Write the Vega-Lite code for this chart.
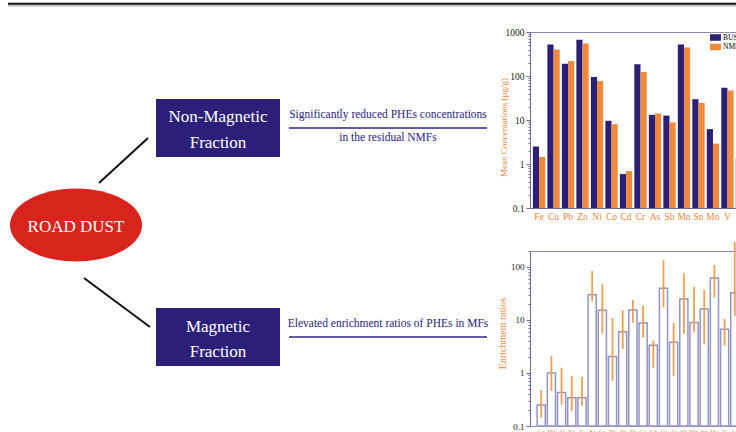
{
  "$schema": "https://vega.github.io/schema/vega-lite/v6.json",
  "padding": 0,
  "background": "white",
  "config": {
    "font": "Liberation Serif",
    "view": {"stroke": null},
    "axis": {"labelFont": "Liberation Serif", "titleFont": "Liberation Serif", "grid": false}
  },
  "spacing": 0,
  "bounds": "flush",
  "hconcat": [
    {
      "width": 530,
      "height": 432,
      "view": {"stroke": null},
      "encoding": {
        "x": {"field": "x", "type": "quantitative", "scale": {"domain": [0, 530], "nice": false, "zero": false}, "axis": null},
        "y": {"field": "y", "type": "quantitative", "scale": {"domain": [0, 432], "nice": false, "zero": false, "reverse": true}, "axis": null}
      },
      "layer": [
        {
          "data": {"values": [
            {"x": 8, "x2": 736, "y": 2.8, "y2": 2.8},
            {"x": 99, "y": 182, "x2": 148, "y2": 137},
            {"x": 84, "y": 277, "x2": 150, "y2": 326}
          ]},
          "mark": {"type": "rule", "color": "#111111", "strokeWidth": 2},
          "encoding": {"x2": {"field": "x2"}, "y2": {"field": "y2"}}
        },
        {
          "data": {"values": [{"x": 8, "x2": 736, "y": 4.8, "y2": 4.8}]},
          "mark": {"type": "rule", "color": "#9a9a9a", "strokeWidth": 1},
          "encoding": {"x2": {"field": "x2"}, "y2": {"field": "y2"}}
        },
        {
          "data": {"values": [{"x": 76, "y": 224}]},
          "mark": {"type": "point", "filled": true, "color": "#d9231d", "opacity": 1, "size": 17424, "shape": "M-1,0A1,0.553 0 1,1 1,0A1,0.553 0 1,1 -1,0Z"}
        },
        {
          "data": {"values": [
            {"x": 156, "x2": 280, "y": 98, "y2": 156},
            {"x": 156, "x2": 280, "y": 307, "y2": 365}
          ]},
          "mark": {"type": "rect", "color": "#2b1f7a"},
          "encoding": {"x2": {"field": "x2"}, "y2": {"field": "y2"}}
        },
        {
          "data": {"values": [
            {"x": 289, "x2": 487, "y": 127, "y2": 127},
            {"x": 289, "x2": 487, "y": 336, "y2": 336}
          ]},
          "mark": {"type": "rule", "color": "#2b2380", "strokeWidth": 1.6},
          "encoding": {"x2": {"field": "x2"}, "y2": {"field": "y2"}}
        },
        {
          "data": {"values": [
            {"x": 218, "y": 121, "t": "Non-Magnetic"},
            {"x": 218, "y": 147, "t": "Fraction"},
            {"x": 218, "y": 331, "t": "Magnetic"},
            {"x": 218, "y": 356, "t": "Fraction"},
            {"x": 76, "y": 231, "t": "ROAD DUST"}
          ]},
          "mark": {"type": "text", "color": "white", "fontSize": 17, "font": "Liberation Serif", "align": "center", "baseline": "alphabetic"},
          "encoding": {"text": {"field": "t"}}
        },
        {
          "data": {"values": [
            {"x": 388, "y": 117, "t": "Significantly reduced PHEs concentrations"},
            {"x": 388, "y": 140, "t": "in the residual NMFs"},
            {"x": 388, "y": 326, "t": "Elevated enrichment ratios of PHEs in MFs"}
          ]},
          "mark": {"type": "text", "color": "#2b2380", "fontSize": 11.5, "font": "Liberation Serif", "align": "center", "baseline": "alphabetic"},
          "encoding": {"text": {"field": "t"}}
        }
      ]
    },
    {
      "spacing": 0,
      "bounds": "flush",
      "vconcat": [
        {
          "width": 1, "height": 31,
          "view": {"stroke": null},
          "data": {"values": [{}]},
          "mark": {"type": "rule", "opacity": 0},
          "encoding": {}
        },
        {
          "width": 221,
          "height": 176,
          "view": {"stroke": "#8c8cba", "strokeWidth": 1},
          "data": {"values": [
            {"element": "Fe", "series": "BUS", "value": 2.5},
            {"element": "Fe", "series": "NMF", "value": 1.45},
            {"element": "Cu", "series": "BUS", "value": 521},
            {"element": "Cu", "series": "NMF", "value": 400},
            {"element": "Pb", "series": "BUS", "value": 190},
            {"element": "Pb", "series": "NMF", "value": 219},
            {"element": "Zn", "series": "BUS", "value": 665},
            {"element": "Zn", "series": "NMF", "value": 550},
            {"element": "Ni", "series": "BUS", "value": 95},
            {"element": "Ni", "series": "NMF", "value": 77},
            {"element": "Co", "series": "BUS", "value": 9.6},
            {"element": "Co", "series": "NMF", "value": 8.0},
            {"element": "Cd", "series": "BUS", "value": 0.59},
            {"element": "Cd", "series": "NMF", "value": 0.69},
            {"element": "Cr", "series": "BUS", "value": 184},
            {"element": "Cr", "series": "NMF", "value": 123},
            {"element": "As", "series": "BUS", "value": 13.1},
            {"element": "As", "series": "NMF", "value": 14.0},
            {"element": "Sb", "series": "BUS", "value": 12.6},
            {"element": "Sb", "series": "NMF", "value": 8.8},
            {"element": "Mn", "series": "BUS", "value": 521},
            {"element": "Mn", "series": "NMF", "value": 446},
            {"element": "Sn", "series": "BUS", "value": 29.7},
            {"element": "Sn", "series": "NMF", "value": 24.4},
            {"element": "Mo", "series": "BUS", "value": 6.2},
            {"element": "Mo", "series": "NMF", "value": 2.9},
            {"element": "V", "series": "BUS", "value": 54},
            {"element": "V", "series": "NMF", "value": 47},
            {"element": "Li", "series": "BUS", "value": 1.4}
          ]},
          "layer": [
            {
              "mark": {"type": "bar"},
              "encoding": {
                "x": {"field": "element", "type": "nominal", "sort": null,
                  "scale": {"paddingInner": 0.15, "paddingOuter": 0.2},
                  "axis": {"title": null, "labelAngle": 0, "labelColor": "#e8873a", "labelFontSize": 9.5, "labelPadding": 3, "ticks": false, "domainColor": "#6a6aa0"}},
                "xOffset": {"field": "series", "type": "nominal", "sort": ["BUS", "NMF"], "scale": {"paddingInner": 0, "paddingOuter": 0}},
                "y": {"field": "value", "type": "quantitative",
                  "scale": {"type": "log", "domain": [0.1, 1000], "nice": false},
                  "axis": {"orient": "left", "values": [0.1, 1, 10, 100, 1000], "format": "~g", "labelFontSize": 9.5, "labelColor": "#222222", "tickSize": 4, "tickColor": "#6a6aa0", "domainColor": "#6a6aa0", "labelPadding": 2,
                    "title": "Mean Concentations (μg/g)", "titleColor": "#e8873a", "titleFontSize": 9, "titleFontWeight": "normal", "titleX": -27, "titleY": 95, "titleAngle": 270, "titleAlign": "center", "titleBaseline": "middle"}},
                "y2": {"datum": 0.1},
                "color": {"field": "series", "type": "nominal", "scale": {"domain": ["BUS", "NMF"], "range": ["#2c1f78", "#ef8a3c"]},
                  "legend": {"orient": "none", "legendX": 711.7, "legendY": 32.75, "title": null, "symbolType": "M-2,-1.2H2V1.2H-2Z", "symbolSize": 30, "labelFontSize": 7.5, "labelFont": "Liberation Serif", "rowPadding": 0.5, "padding": 0, "labelOffset": 3.8, "symbolStrokeWidth": 0}}
              }
            },
            {
              "mark": {"type": "tick", "opacity": 0},
              "encoding": {
                "y": {"field": "value", "type": "quantitative",
                  "axis": {"orient": "left", "values": [0.2,0.3,0.4,0.5,0.6,0.7,0.8,0.9,2,3,4,5,6,7,8,9,20,30,40,50,60,70,80,90,200,300,400,500,600,700,800,900], "labels": false, "domain": false, "tickSize": 2, "tickColor": "#6a6aa0", "title": null}}
              }
            }
          ],
          "resolve": {"axis": {"y": "independent"}}
        },
        {
          "width": 1, "height": 43,
          "view": {"stroke": null},
          "data": {"values": [{}]},
          "mark": {"type": "rule", "opacity": 0},
          "encoding": {}
        },
        {
          "width": 216,
          "height": 175,
          "view": {"stroke": "#8c8cba", "strokeWidth": 1},
          "data": {"values": [
            {"element": "Ca", "ratio": 0.25, "low": 0.145, "high": 0.47},
            {"element": "Mg", "ratio": 1.0, "low": 0.46, "high": 2.08},
            {"element": "Al", "ratio": 0.43, "low": 0.25, "high": 1.26},
            {"element": "Na", "ratio": 0.34, "low": 0.19, "high": 0.88},
            {"element": "K", "ratio": 0.34, "low": 0.24, "high": 0.84},
            {"element": "Fe", "ratio": 29.9, "low": 22.4, "high": 84},
            {"element": "Cu", "ratio": 15.2, "low": 5.5, "high": 47},
            {"element": "Pb", "ratio": 2.05, "low": 0.71, "high": 10.9},
            {"element": "Zn", "ratio": 6.0, "low": 2.86, "high": 15.2},
            {"element": "Ni", "ratio": 15.4, "low": 8.9, "high": 23.7},
            {"element": "Co", "ratio": 8.8, "low": 4.7, "high": 18.8},
            {"element": "Cd", "ratio": 3.35, "low": 1.26, "high": 4.1},
            {"element": "Cr", "ratio": 39.8, "low": 17.3, "high": 135},
            {"element": "As", "ratio": 3.8, "low": 0.88, "high": 8.8},
            {"element": "Sb", "ratio": 25, "low": 5.5, "high": 76},
            {"element": "Mn", "ratio": 9.0, "low": 5.95, "high": 41.7},
            {"element": "Sn", "ratio": 16.1, "low": 3.45, "high": 37},
            {"element": "Mo", "ratio": 62, "low": 26.6, "high": 109},
            {"element": "V", "ratio": 6.7, "low": 3.3, "high": 10.4},
            {"element": "Li", "ratio": 32.5, "low": 12, "high": 298}
          ]},
          "layer": [
            {
              "mark": {"type": "bar", "fill": "white", "stroke": "#9494c4", "strokeWidth": 1.5},
              "encoding": {
                "x": {"field": "element", "type": "nominal", "sort": null,
                  "scale": {"paddingInner": 0.2, "paddingOuter": 0.7},
                  "axis": {"title": null, "labelAngle": 0, "labelColor": "#e8873a", "labelFontSize": 6, "labelPadding": 2, "ticks": false, "domainColor": "#8c8cba"}},
                "y": {"field": "ratio", "type": "quantitative",
                  "scale": {"type": "log", "domain": [0.1, 200], "nice": false},
                  "axis": {"orient": "left", "values": [0.1, 1, 10, 100], "format": "~g", "labelFontSize": 9, "labelColor": "#222222", "tickSize": 4, "tickColor": "#6a6aa0", "domainColor": "#6a6aa0", "labelPadding": 2,
                    "title": "Enrichment ratios", "titleColor": "#e8873a", "titleFontSize": 10, "titleFontWeight": "normal", "titleX": -28, "titleY": 82, "titleAngle": 270, "titleAlign": "center", "titleBaseline": "middle"}},
                "y2": {"datum": 0.1}
              }
            },
            {
              "mark": {"type": "rule", "color": "#f0a050", "strokeWidth": 1.8},
              "encoding": {
                "x": {"field": "element", "type": "nominal", "sort": null},
                "y": {"field": "low", "type": "quantitative", "axis": null},
                "y2": {"field": "high"}
              }
            },
            {
              "mark": {"type": "tick", "opacity": 0},
              "encoding": {
                "y": {"field": "ratio", "type": "quantitative",
                  "axis": {"orient": "left", "values": [0.2,0.3,0.4,0.5,0.6,0.7,0.8,0.9,2,3,4,5,6,7,8,9,20,30,40,50,60,70,80,90,200], "labels": false, "domain": false, "tickSize": 2, "tickColor": "#6a6aa0", "title": null}}
              }
            }
          ],
          "resolve": {"axis": {"y": "independent"}}
        }
      ]
    }
  ]
}
